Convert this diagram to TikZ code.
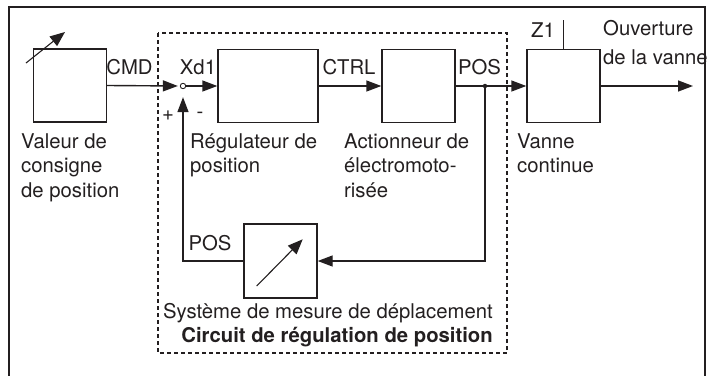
\documentclass[tikz,border=0pt]{standalone}
\usepackage{fontspec}
\setmainfont{TeX Gyre Heros}
\usetikzlibrary{arrows.meta}
\definecolor{ink}{RGB}{35,31,32}
\newcommand\lbfont{\fontsize{20.3}{24.5}\selectfont}
\begin{document}
\begin{tikzpicture}[x=1pt,y=-1pt,
  blk/.style={draw=ink, line width=1.4pt, minimum width=73pt, minimum height=73pt, inner sep=0pt},
  lbl/.style={font=\lbfont, text=ink, inner sep=0pt},
  wire/.style={draw=ink, line width=1.4pt},
  arr/.style={wire, -{Triangle[length=15pt,width=11pt]}},
  darr/.style={draw=ink, line width=1.1pt, -{Triangle[length=15pt,width=12pt]}}]
\useasboundingbox (0,0) rectangle (708,375);
% frame
\draw[wire] (9,376) -- (9,7) -- (705,7) -- (705,376);
% dashed loop box
\draw[ink, line width=1.1pt, dash pattern=on 4pt off 3pt] (158,33) rectangle (507,353);
% blocks
\node[blk] (b1) at (70,85.5) {};
\node[blk, minimum width=100pt] (b2) at (268,86) {};
\node[blk] (b3) at (418.5,86) {};
\node[blk] (b4) at (563.5,86) {};
\node[blk, minimum height=74pt] (b5) at (280.5,261) {};
\node[circle, draw=ink, line width=0.9pt, minimum size=5.4pt, inner sep=0pt] (sum) at (183,86) {};
\node[circle, fill=ink, minimum size=4.5pt, inner sep=0pt] (dot) at (485,86) {};
\coordinate (out) at (693,86);
\coordinate (z1) at (563.5,20);
\coordinate (a1s) at (26,63);
\coordinate (a1e) at (65,32);
\coordinate (a5s) at (256.7,286);
\coordinate (a5e) at (302.7,239.3);
% connectors
\draw[arr, shorten >=2pt] (b1.east) -- (sum.west);
\draw[arr] (sum.east) -- (b2.west);
\draw[arr] (b2.east) -- (b3.west);
\draw[arr] (b3.east) -- (b4.west);
\draw[arr] (b4.east) -- (out);
\draw[arr] (dot) |- (b5.east);
\draw[arr, shorten >=8pt] (b5.west) -| (sum.south);
\draw[wire] (z1) -- (b4.north);
\draw[darr] (a1s) -- (a1e);
\draw[darr] (a5s) -- (a5e);
% labels
\node[lbl, anchor=base] (cmd) at (129.5,74) {CMD};
\node[lbl, anchor=base] (xd1) at (198,74) {Xd1};
\node[lbl, anchor=base] (ctrl) at (349,74) {CTRL};
\node[lbl, anchor=base] (pos1) at (479.5,74) {POS};
\node[lbl, anchor=base] (plus) at (168,120) {+};
\node[lbl, anchor=base] (minus) at (200,118.5) {-};
\node[lbl, anchor=base] (z1l) at (543,37) {Z1};
\node[lbl, anchor=north west, align=left] (ouv) at (603,20.6) {Ouverture\\[4pt]de la vanne};
\node[lbl, anchor=north west, align=left] (v1) at (21,133.4) {Valeur de\\consigne\\de position};
\node[lbl, anchor=north west, align=left] (r1) at (190,133.4) {Régulateur de\\position};
\node[lbl, anchor=north west, align=left] (ac1) at (344,133.4) {Actionneur de\\électromoto-\\risée};
\node[lbl, anchor=north west, align=left] (va) at (517,133.4) {Vanne\\continue};
\node[lbl, anchor=base] (pos2) at (210,250) {POS};
\node[lbl, anchor=base east] (sys) at (493,318) {Système de mesure de déplacement};
\node[lbl, anchor=base east, font=\lbfont\bfseries] (circ) at (493,342) {Circuit de régulation de position};
\end{tikzpicture}
\end{document}
